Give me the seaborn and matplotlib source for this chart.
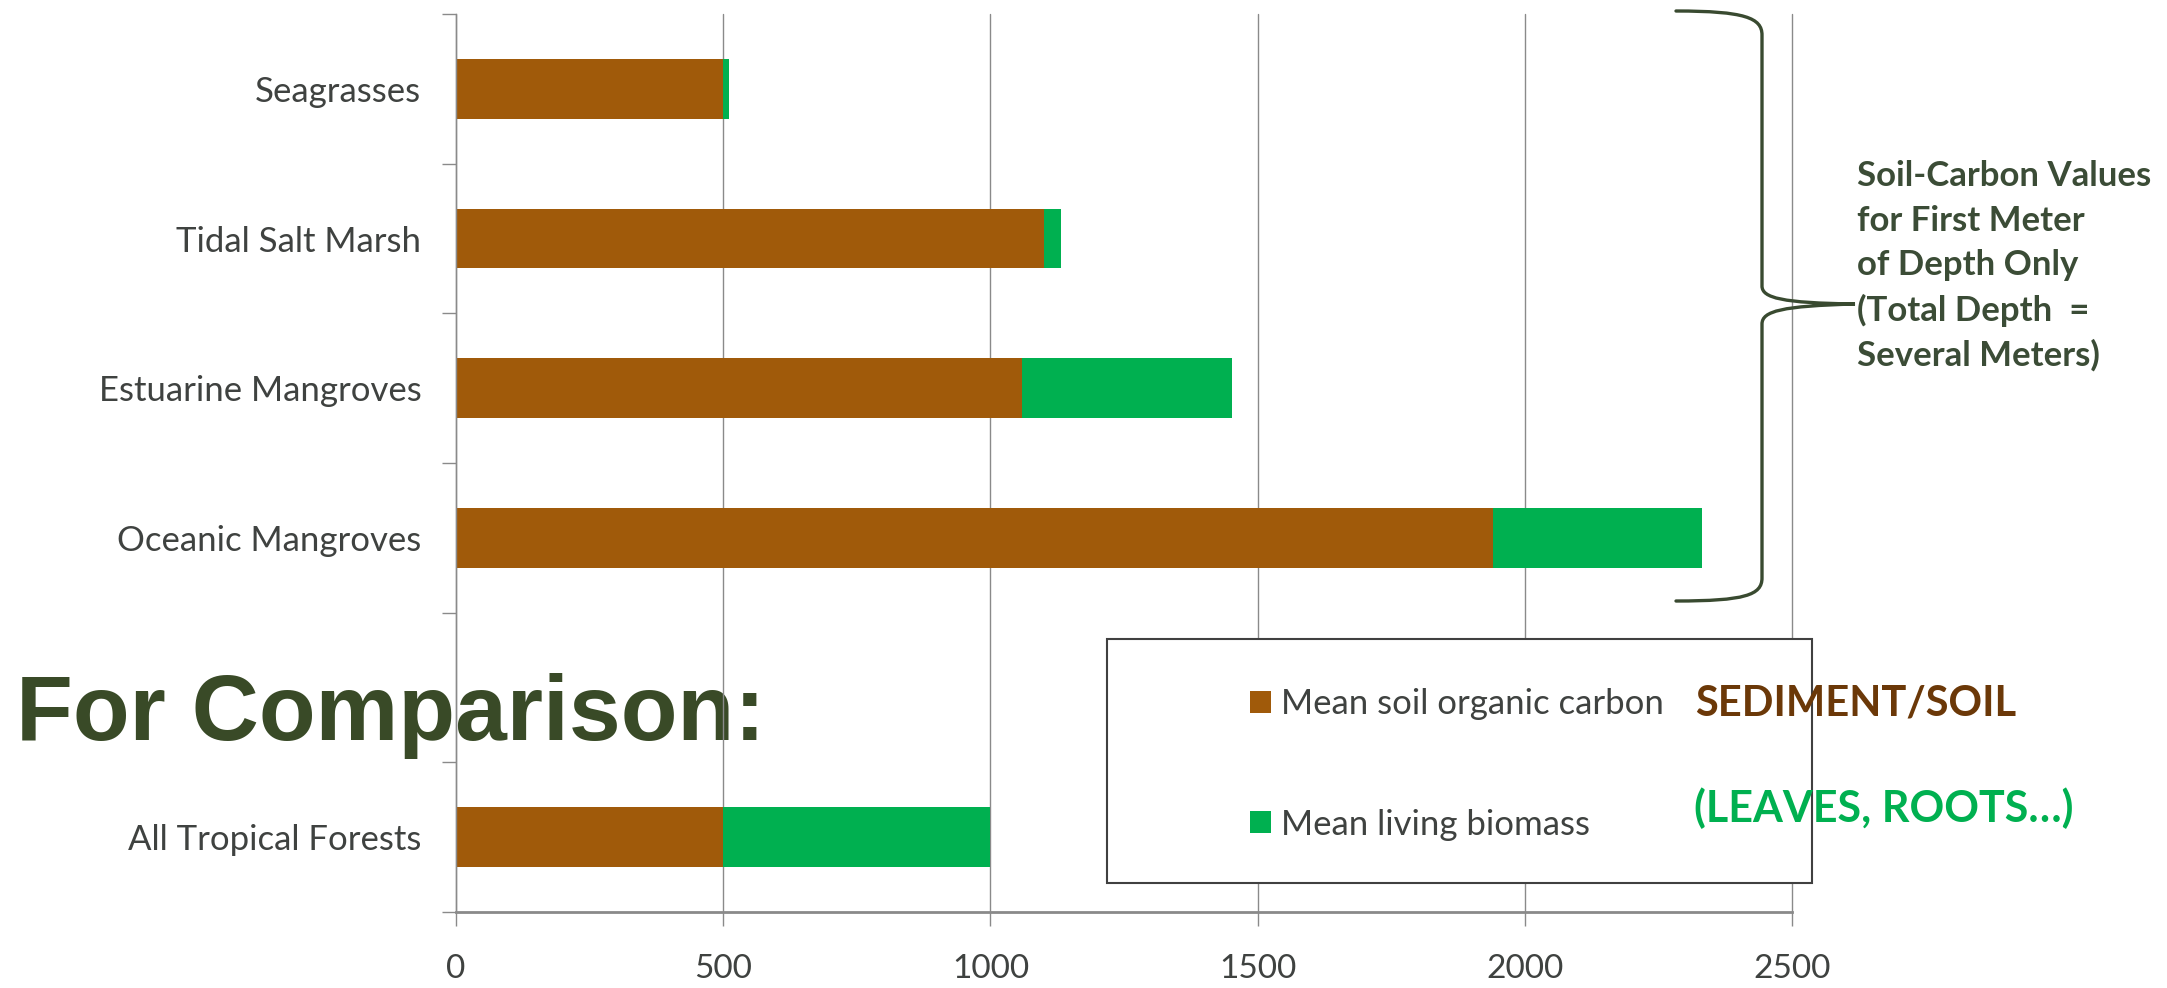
import matplotlib
matplotlib.use("Agg")
import matplotlib.pyplot as plt
from matplotlib.patches import Rectangle, Patch, PathPatch
from matplotlib.path import Path
from matplotlib.ticker import FixedLocator
import pandas as pd
import seaborn as sns

# Carbon stocks per ecosystem (Mg C / ha)
ecosystems = ["Seagrasses", "Tidal Salt Marsh", "Estuarine Mangroves",
              "Oceanic Mangroves", "All Tropical Forests"]
soil_carbon = [500, 1100, 1060, 1940, 500]
living_biomass = [11, 32, 392, 391, 500]
x_ticks = [0, 500, 1000, 1500, 2000, 2500]
# blank row separates the comparison bar from the coastal ecosystems
row_order = ecosystems[:4] + [" "] + ecosystems[4:]
series_names = ["Mean soil organic carbon", "Mean living biomass"]
series_colors = ["#A05A0A", "#00B050"]

df = pd.DataFrame({"ecosystem": ecosystems, "soil": soil_carbon,
                   "living": living_biomass})
df["total"] = df["soil"] + df["living"]

sns.set_theme(style="white")
plt.rcParams["font.family"] = ["Lato", "DejaVu Sans"]

W, H = 2167, 988
fig = plt.figure(figsize=(W / 100, H / 100), dpi=100)
fig.patch.set_facecolor("white")


def fx(px):
    return px / W


def fy(py):
    return 1 - py / H


ax = fig.add_axes([fx(456), fy(912), fx(1792) - fx(456), fy(14) - fy(912)])

# stacked bars: full total in green, soil share drawn over it in brown
sns.barplot(data=df, y="ecosystem", x="total", order=row_order,
            color=series_colors[1], width=0.4, saturation=1, linewidth=0,
            errorbar=None, orient="h", ax=ax)
sns.barplot(data=df, y="ecosystem", x="soil", order=row_order,
            color=series_colors[0], width=0.4, saturation=1, linewidth=0,
            errorbar=None, orient="h", ax=ax)

ax.set_xlim(0, 2500)
ax.set_ylim(len(row_order) - 0.5, -0.5)
ax.set_xlabel("")
ax.set_ylabel("")
ax.set_xticks(x_ticks)
ax.set_xticklabels([str(t) for t in x_ticks])
ax.set_yticks(range(len(row_order)))
ax.set_yticklabels(row_order)
ax.yaxis.set_minor_locator(FixedLocator([i - 0.5 for i in range(len(row_order) + 1)]))

grid_gray = "#8A8A8A"
label_color = "#3F4240"
ax.grid(axis="x", color=grid_gray, linewidth=1.0)
ax.grid(axis="y", visible=False)
ax.set_axisbelow(True)
for gl in ax.get_xgridlines():
    gl.set_clip_on(False)
for side in ("top", "right"):
    ax.spines[side].set_visible(False)
ax.spines["left"].set_color(grid_gray)
ax.spines["left"].set_linewidth(1.0)
ax.spines["bottom"].set_color(grid_gray)
ax.spines["bottom"].set_linewidth(2.0)

ax.tick_params(axis="y", which="major", length=0, pad=25, labelsize=25,
               labelcolor=label_color)
ax.tick_params(axis="y", which="minor", length=10, width=1.0, color=grid_gray,
               direction="out", left=True)
ax.tick_params(axis="x", which="major", length=10, width=1.0, color=grid_gray,
               direction="out", bottom=True, pad=20, labelsize=24,
               labelcolor=label_color)

# heading sitting beneath the grid lines
ax.text(fx(16), fy(740), "For Comparison:", transform=fig.transFigure,
        fontsize=67, fontweight="bold", family=["Liberation Sans", "DejaVu Sans"],
        color="#394A27", ha="left", va="baseline", zorder=0.1, clip_on=False)

# curly brace grouping the coastal ecosystems
verts = [(1676, 11), (1745, 11), (1762, 18), (1762, 35),
         (1762, 286),
         (1762, 298), (1782, 303), (1855, 304),
         (1782, 306), (1762, 311), (1762, 324),
         (1762, 578),
         (1762, 595), (1745, 601), (1676, 601)]
codes = [Path.MOVETO, Path.CURVE4, Path.CURVE4, Path.CURVE4,
         Path.LINETO,
         Path.CURVE4, Path.CURVE4, Path.CURVE4,
         Path.CURVE4, Path.CURVE4, Path.CURVE4,
         Path.LINETO,
         Path.CURVE4, Path.CURVE4, Path.CURVE4]
brace = Path([(fx(x), fy(y)) for x, y in verts], codes)
fig.add_artist(PathPatch(brace, transform=fig.transFigure, facecolor="none",
                         edgecolor="#394A30", linewidth=2.4, capstyle="round"))

fig.text(fx(1857), fy(266),
         "Soil-Carbon Values\nfor First Meter\nof Depth Only\n(Total Depth  =\nSeveral Meters)",
         fontsize=25, fontweight="bold", color="#3B4C36", ha="left",
         va="center", linespacing=1.47)

# legend box
fig.add_artist(Rectangle((fx(1107), fy(883)), fx(1812) - fx(1107), fy(639) - fy(883),
                         transform=fig.transFigure, facecolor="white",
                         edgecolor="#404040", linewidth=1.5))
handles = [Patch(facecolor=c, edgecolor="none") for c in series_colors]
fig.legend(handles, series_names, loc="upper left",
           bbox_to_anchor=(fx(1250), fy(688)), frameon=False, fontsize=25,
           handlelength=0.6, handleheight=0.6, handletextpad=0.3,
           labelspacing=2.55, borderpad=0, borderaxespad=0,
           labelcolor=label_color)

fig.text(fx(1695), fy(704), "SEDIMENT/SOIL", fontsize=30, fontweight="bold",
         color="#6B3808", ha="left", va="center", zorder=6)
fig.text(fx(1694), fy(808), "(LEAVES, ROOTS\u2026)", fontsize=31,
         fontweight="bold", color="#00B050", ha="left", va="center", zorder=6)

fig.savefig("out.png", dpi=100, facecolor="white")
